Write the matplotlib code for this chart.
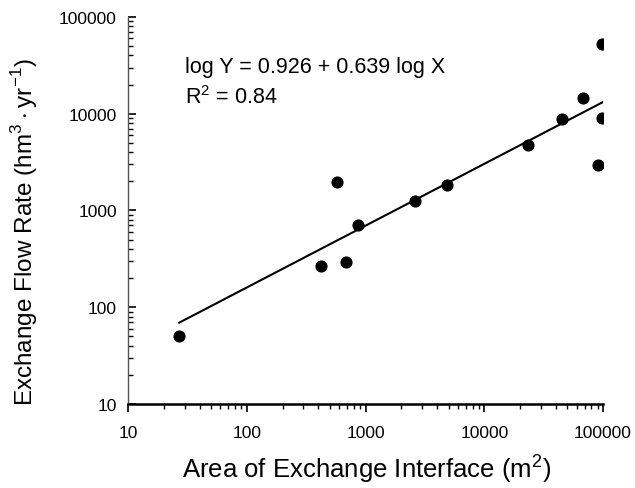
import matplotlib.pyplot as plt
import numpy as np
from matplotlib.ticker import LogLocator, NullFormatter, FixedLocator

plt.rcParams['font.family'] = ['Liberation Sans', 'DejaVu Sans']
plt.rcParams['mathtext.fontset'] = 'custom'
plt.rcParams['mathtext.rm'] = 'Liberation Sans'

# data
area = [27, 422, 571, 680, 860, 2600, 4900, 23200, 44900, 67400, 97500, 97500, 90100]
flow = [51, 267, 1950, 295, 700, 1260, 1840, 4790, 8830, 14550, 52600, 9040, 2970]

# regression: log Y = 0.926 + 0.639 log X
intercept = 0.926
slope = 0.639
fit_range = [27, 100000]

fig = plt.figure(figsize=(6.35, 4.89), dpi=100)
ax = fig.add_axes([0.2016, 0.1718, 0.7480, 0.7914])

ax.scatter(area, flow, s=60, color='black', zorder=3)

fx = np.array(fit_range, dtype=float)
fy = 10 ** (intercept + slope * np.log10(fx))
ax.plot(fx, fy, color='black', lw=1.5)

ax.set_xscale('log')
ax.set_yscale('log')
ax.set_xlim(10, 100000)
ax.set_ylim(10, 100000)

ticks = [10, 100, 1000, 10000, 100000]
ax.xaxis.set_major_locator(FixedLocator(ticks))
ax.yaxis.set_major_locator(FixedLocator(ticks))
ax.set_xticklabels([str(t) for t in ticks])
ax.set_yticklabels([str(t) for t in ticks])
ax.xaxis.set_minor_locator(LogLocator(base=10, subs=np.arange(2, 10)))
ax.yaxis.set_minor_locator(LogLocator(base=10, subs=np.arange(2, 10)))
ax.xaxis.set_minor_formatter(NullFormatter())
ax.yaxis.set_minor_formatter(NullFormatter())

ax.tick_params(axis='x', which='major', direction='out', length=6, width=1.2,
               labelsize=12.5, pad=9)
ax.tick_params(axis='x', which='minor', direction='out', length=3.5, width=1)
ax.tick_params(axis='y', which='major', direction='in', length=6, width=1.2,
               labelsize=12.5, pad=8)
ax.tick_params(axis='y', which='minor', direction='in', length=3.5, width=1)

for s in ['top', 'right']:
    ax.spines[s].set_visible(False)
ax.spines['bottom'].set_linewidth(1.8)
ax.spines['left'].set_linewidth(1.0)
ax.spines['left'].set_color('#555555')

ax.set_xlabel('Area of Exchange Interface (m$^2$)', fontsize=18.5)
ax.set_ylabel('Exchange Flow Rate (hm$^3\\cdot$yr$^{-1}$)', fontsize=17.5)
ax.xaxis.label.set_va('center')
ax.yaxis.label.set_va('center')
ax.xaxis.set_label_coords(0.503, -0.163)
ax.yaxis.set_label_coords(-0.217, 0.447)

ax.text(0.12, 0.858, 'log Y = 0.926 + 0.639 log X', transform=ax.transAxes,
        fontsize=15.5, va='baseline', ha='left')
ax.text(0.12, 0.778, 'R$^2$ = 0.84', transform=ax.transAxes,
        fontsize=15.5, va='baseline', ha='left')

fig.savefig('out.png', dpi=100)
